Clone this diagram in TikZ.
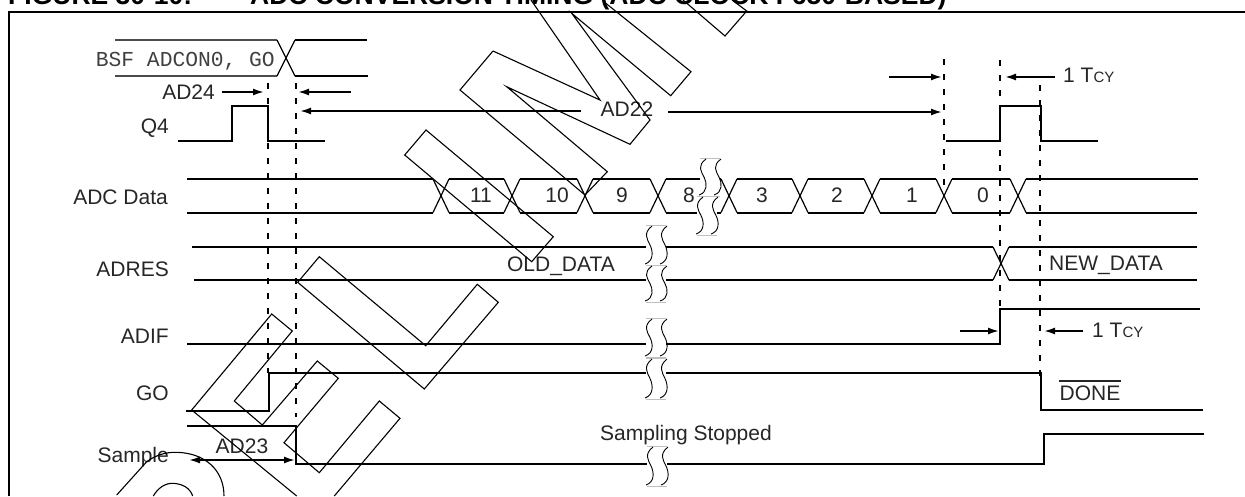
\documentclass[tikz,border=0pt]{standalone}
\usepackage{fontspec}
\setmainfont{Liberation Sans}
\newfontfamily\monofam{Liberation Mono}
\usetikzlibrary{arrows.meta}
\tikzset{x=1pt,y=-1pt,
  sig/.style={line width=2pt,line join=miter},
  guide/.style={line width=2pt,dash pattern=on 6pt off 9pt},
  wmark/.style={line width=1.1pt,line join=miter},
  lab/.style={inner sep=0pt,font=\fontsize{21}{25}\selectfont,text=black!85},
  ttl/.style={anchor=base west,inner sep=0pt,font=\fontsize{26.5}{30}\bfseries\selectfont},
  tick/.style={line width=1.8pt,-{Latex[length=11pt,width=7pt]}},
  ttick/.style={line width=1.8pt,{Latex[length=11pt,width=7pt]}-{Latex[length=11pt,width=7pt]}}
}
\newcommand{\brk}[3]{% cx, top, bottom
  \fill[white] (#1-10,#2) rectangle (#1+10,#3);
  \draw[black!25,line width=.7pt] (#1-10,#2)--(#1+10,#2) (#1-10,#3)--(#1+10,#3);
  \draw[line width=.9pt] (#1-4,#2+1) .. controls (#1-13,{#2+.2*(#3-#2)}) and (#1-9,{#2+.35*(#3-#2)}) .. (#1-6,{#2+.5*(#3-#2)}) .. controls (#1-3,{#2+.65*(#3-#2)}) and (#1-2,{#2+.9*(#3-#2)}) .. (#1-11,#3-1);
  \draw[line width=.9pt] (#1+11,#2+1) .. controls (#1+2,{#2+.2*(#3-#2)}) and (#1+6,{#2+.35*(#3-#2)}) .. (#1+9,{#2+.5*(#3-#2)}) .. controls (#1+12,{#2+.65*(#3-#2)}) and (#1+13,{#2+.9*(#3-#2)}) .. (#1+4,#3-1);
}
\newcommand{\bus}[3]{% crossing centre, y top, y bottom
  \draw[line width=1.2pt] (#1-8,#2)--(#1+8,#3) (#1-8,#3)--(#1+8,#2);
}
\begin{document}
\begin{tikzpicture}
\useasboundingbox (0,0) rectangle (1245,496);
\begin{scope}
\clip (0,0) rectangle (1245,496);
% title
\node[ttl] (title) at (8,4.5) {FIGURE 30-10:};
\node[ttl] (title2) at (250,4.5) {ADC CONVERSION TIMING (ADC CLOCK F650-BASED)};
% frame
\draw[line width=2pt] (9,496)--(9,12)--(1245,12);
% guides
\draw[guide] (268,83)--(268,373);
\draw[guide] (296,83)--(296,417);
\draw[guide] (944,59)--(944,190);
\draw[guide] (1000,60)--(1000,309);
\draw[guide] (1040,85)--(1040,383);
% BSF
\draw[line width=1.3pt,black!70] (115,40)--(277,40) (115,76)--(277,76);
\draw[line width=1.2pt] (277,40)--(295,76) (277,76)--(295,40);
\draw[sig] (295,40)--(367,40) (295,76)--(368,76);
\node[anchor=east,inner sep=0pt,font=\monofam\fontsize{21.3}{25}\selectfont,text=black!75] (bsf) at (275,61) {BSF ADCON0, GO};
% Q4
\draw[sig] (178,141)--(232,141)--(232,106)--(268,106)--(268,141)--(325,141);
\draw[sig] (946,141)--(1000,141)--(1000,106)--(1041,106)--(1041,141)--(1098,141);
% ADC Data
\draw[sig] (187,179)--(433,179) (187,212.5)--(433,212.5);
\foreach \a/\b in {449/504,520/577,593/650,666/702,737/792,808/864,880/936,952/1010}{
  \draw[sig] (\a,179)--(\b,179) (\a,212.5)--(\b,212.5);}
\draw[sig] (715,179)--(721,179) (715,212.5)--(721,212.5);
\draw[sig] (1026,179)--(1198,179) (1026,212.5)--(1197,212.5);
\foreach \c in {441,512,585,658,729,800,872,944,1018}{\bus{\c}{179}{212.5}}
\foreach \t/\c in {11/481,10/557,9/622,8/689,3/762,2/837,1/912,0/983}{
  \node[lab] at (\c,195) {\t};}
% ADRES
\draw[sig] (192,247)--(993,247) (194,280)--(993,280);
\draw[sig] (1009,247)--(1197,247) (1009,280)--(1197,280);
\bus{1001}{247}{280}
% ADIF GO Sample
\draw[sig] (187,344)--(1000,344)--(1000,309)--(1200,309);
\draw[sig] (186,411)--(269,411)--(269,373)--(1041,373)--(1041,410)--(1203,410);
\draw[sig] (187,426)--(296,426)--(296,464)--(1044,464)--(1044,434)--(1204,434);
% breaks
\brk{710}{158}{196}
\brk{707}{196}{235}
\brk{656}{225}{265}
\brk{656}{265}{302}
\brk{656}{318}{357}
\brk{656}{358}{399}
\brk{657}{446}{486}
% dimension arrows
\coordinate (a1) at (222,92); \coordinate (a2) at (264,92);
\coordinate (a3) at (351,92); \coordinate (a4) at (298,92);
\draw[tick] (a1)--(a2);
\draw[tick] (a3)--(a4);
\coordinate (b1) at (581,111); \coordinate (b2) at (300,111);
\coordinate (b3) at (668,112); \coordinate (b4) at (942,112);
\draw[tick] (b1)--(b2);
\draw[tick] (b3)--(b4);
\coordinate (c1) at (889,77); \coordinate (c2) at (942,77);
\coordinate (c3) at (1055,77); \coordinate (c4) at (1005,77);
\draw[tick] (c1)--(c2);
\draw[tick] (c3)--(c4);
\coordinate (d1) at (960,331); \coordinate (d2) at (999,331);
\coordinate (d3) at (1083,331); \coordinate (d4) at (1044,331);
\draw[tick] (d1)--(d2);
\draw[tick] (d3)--(d4);
\coordinate (e1) at (189,460); \coordinate (e2) at (295,460);
\draw[ttick] (e1)--(e2);
% labels
\node[lab,anchor=east] (l1) at (169,128) {Q4};
\node[lab,anchor=east] (l2) at (168,197) {ADC Data};
\node[lab,anchor=east] (l3) at (169,269) {ADRES};
\node[lab,anchor=east] (l4) at (169,336) {ADIF};
\node[lab,anchor=east] (l5) at (169,393) {GO};
\node[lab,anchor=east] (l6) at (169,457) {Sample};
\node[lab,anchor=east] (l7) at (215,92) {AD24};
\node[lab] (l8) at (627,109) {AD22};
\node[lab] (l9) at (242,446) {AD23};
\node[lab] (l10) at (561,266) {OLD\_DATA};
\node[lab] (l11) at (1106,265) {NEW\_DATA};
\node[lab] (l12) at (686,435) {Sampling Stopped};
\node[lab,anchor=west] (l13) at (1063,75) {1 T\fontsize{15}{18}\selectfont CY};
\node[lab,anchor=west] (l14) at (1092,330) {1 T\fontsize{15}{18}\selectfont CY};
\node[lab] (l15) at (1090,393) {DONE};
\draw[line width=1.4pt,black!85] (1059,381)--(1121,381);
% watermark
\draw[wmark] (493,51)--(600,100)--(531,0);
\draw[wmark] (603,1)--(691,71.7)--(670.7,95.7)--(571.7,13.3)--(650,120)--(630,144.3)--(506.7,86.7)--(607.3,171.7)--(585,195)--(460,90)--(493,51);
\draw[wmark] (683,0)--(725,36)--(746.7,11)--(732,0);
\draw[wmark] (426,130)--(553.3,236.7)--(531.7,261.7)--(404.7,155)--cycle;
\draw[wmark] (319.3,256.7)--(425.7,345.7)--(477.3,284.3)--(498.3,302.3)--(424.3,389)--(297.7,282.3)--cycle;
\draw[wmark] (296.7,496)--(191.7,410)--(271.7,314)--(292.3,331)--(234.3,401)--(262.3,425)--(317.3,361)--(338.3,378.3)--(284,442.7)--(319.3,472.7)--(379.3,401)--(400,418.3)--(334.3,496);
\draw[wmark] (116.7,495)--(146.7,461.7) .. controls (156,455) and (166,452) .. (176.7,452.3) .. controls (205,453) and (224,470) .. (224,496);
\draw[wmark] (153.3,496) .. controls (158,488) and (165,483) .. (173.3,483.3) .. controls (183,484) and (190,488) .. (192.7,496);
\end{scope}
\end{tikzpicture}
\end{document}
